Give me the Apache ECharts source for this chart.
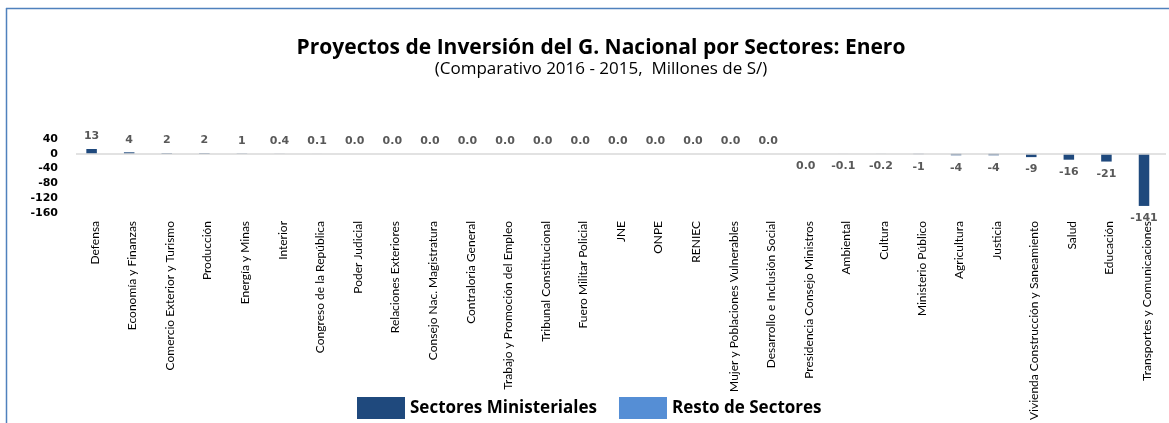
<!DOCTYPE html>
<html lang="es">
<head>
    <meta charset="UTF-8">
    <title>Proyectos de Inversión por Sectores</title>
    <script src="https://cdn.jsdelivr.net/npm/echarts@6/dist/echarts.min.js"></script>
    <style>
        html, body { margin: 0; padding: 0; background: #fff; }
        #box { width: 1169px; height: 423px; }
    </style>
</head>
<body>
<div id="box"></div>
<script>
    // sectores (eje x)
    var sectores = [
        'Defensa', 'Economía y Finanzas', 'Comercio Exterior y Turismo', 'Producción',
        'Energía y Minas', 'Interior', 'Congreso de la República', 'Poder Judicial',
        'Relaciones Exteriores', 'Consejo Nac. Magistratura', 'Contraloria General',
        'Trabajo y Promoción del Empleo', 'Tribunal Constitucional', 'Fuero Militar Policial',
        'JNE', 'ONPE', 'RENIEC', 'Mujer y Poblaciones Vulnerables',
        'Desarrollo e Inclusión Social', 'Presidencia Consejo Ministros', 'Ambiental',
        'Cultura', 'Ministerio Público', 'Agricultura', 'Justicia',
        'Vivienda Construcción y Saneamiento', 'Salud', 'Educación',
        'Transportes y Comunicaciones'
    ];
    // variación 2016 - 2015 (millones de S/)
    var variacion = [
        13, 4, 2, 2,
        1, 0.4, 0.1, 0.04,
        0.04, 0.03, 0.02,
        0, 0, 0,
        0, 0, 0, 0,
        0, -0.04, -0.1,
        -0.2, -1, -4, -4,
        -9, -16, -21,
        -141
    ];
    var leyenda = ['Sectores Ministeriales', 'Resto de Sectores'];
    var yTicks = {min: -160, max: 40, interval: 40};

    function fmt(v) {
        if (Math.abs(v) < 0.05) return '0.0';
        if (Math.abs(v) < 1) return v.toFixed(1);
        return String(Math.round(v));
    }

    var barData = [];
    for (var i = 0; i < variacion.length; i++) {
        barData.push({
            value: variacion[i],
            label: {position: variacion[i] < 0 ? 'bottom' : 'top'}
        });
    }

    var myChart = echarts.init(document.getElementById('box'));
    var option = {
        animation: false,
        title: [
            {
                text: 'Proyectos de Inversión del G. Nacional por Sectores: Enero',
                left: 596, top: 33, textAlign: 'center',
                textStyle: {fontFamily: 'Open Sans', fontSize: 21, fontWeight: 'bold', color: '#000'}
            },
            {
                text: '(Comparativo 2016 - 2015,  Millones de S/)',
                left: 596, top: 56, textAlign: 'center',
                textStyle: {fontFamily: 'Open Sans', fontSize: 17, fontWeight: 'normal', color: '#000'}
            }
        ],
        legend: {
            data: leyenda,
            left: 352, top: 392,
            itemWidth: 48, itemHeight: 22, itemGap: 22,
            icon: 'rect',
            textStyle: {fontFamily: 'Open Sans', fontSize: 17, fontWeight: 'bold', color: '#000'}
        },
        graphic: [
            {type: 'line', shape: {x1: 6.5, y1: 8, x2: 6.5, y2: 423}, style: {stroke: '#4f81bd', lineWidth: 1.5}},
            {type: 'line', shape: {x1: 6, y1: 8.5, x2: 1169, y2: 8.5}, style: {stroke: '#4f81bd', lineWidth: 1.5}}
        ],
        grid: {left: 76, right: 3, top: 139, bottom: 208, containLabel: false},
        xAxis: {
            type: 'category',
            data: sectores,
            axisLine: {show: false, onZero: false},
            axisTick: {show: false},
            axisLabel: {
                interval: 0, rotate: 90, margin: 8,
                fontFamily: 'Lato', fontSize: 12, color: '#000'
            }
        },
        yAxis: {
            type: 'value',
            min: yTicks.min, max: yTicks.max, interval: yTicks.interval,
            axisLine: {show: false},
            axisTick: {show: false},
            splitLine: {show: false},
            axisLabel: {
                margin: 18,
                fontFamily: 'DejaVu Sans', fontSize: 11, fontWeight: 'bold', color: '#000'
            }
        },
        series: [
            {
                name: leyenda[0],
                type: 'bar',
                barWidth: '28%',
                itemStyle: {color: '#1f497d'},
                label: {
                    show: true, distance: 7,
                    fontFamily: 'DejaVu Sans', fontSize: 11, fontWeight: 'bold', color: '#595959',
                    formatter: function (p) { return fmt(p.value); }
                },
                markLine: {
                    silent: true, symbol: 'none',
                    label: {show: false},
                    lineStyle: {color: '#d9d9d9', width: 1.5, type: 'solid'},
                    data: [{yAxis: 0}]
                },
                data: barData
            },
            {
                name: leyenda[1],
                type: 'bar',
                itemStyle: {color: '#558ed5'},
                data: []
            }
        ]
    };
    myChart.setOption(option);
</script>
</body>
</html>
